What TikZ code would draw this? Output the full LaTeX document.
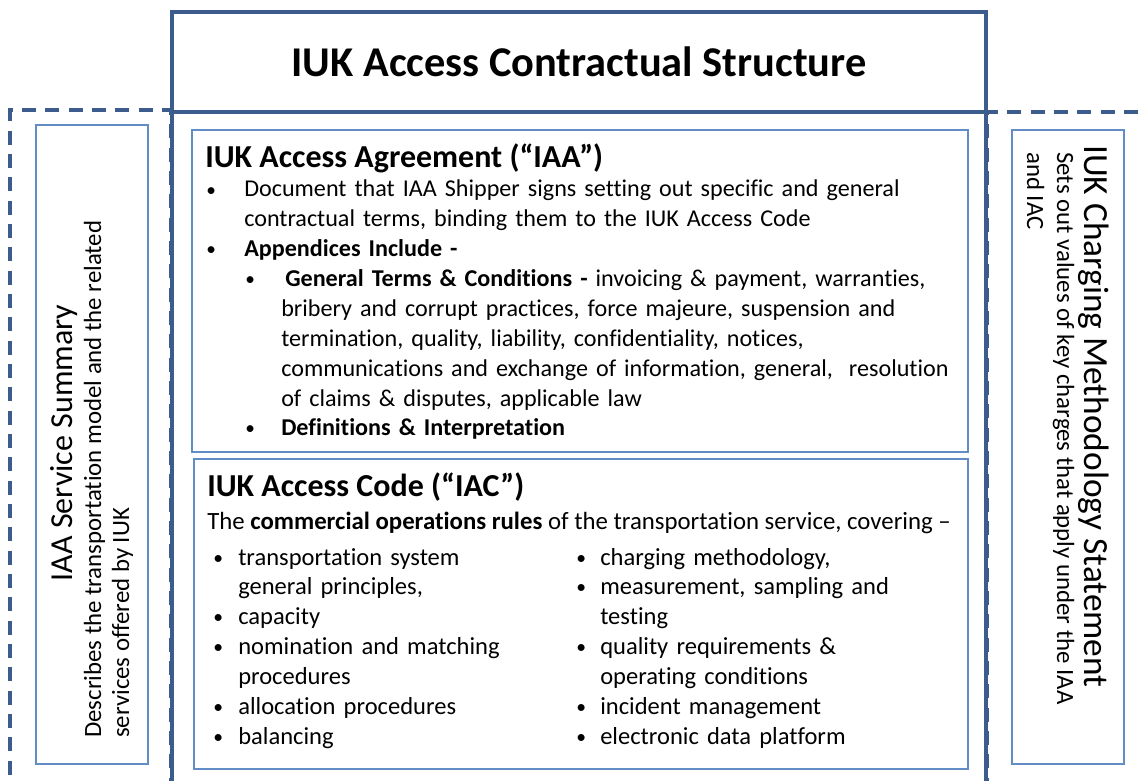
\documentclass[tikz,border=0pt]{standalone}
\usepackage{fontspec}
\setmainfont{Carlito}[Ligatures=NoCommon]
\usetikzlibrary{positioning}
\definecolor{frameBlue}{RGB}{59,92,140}
\definecolor{panelBlue}{RGB}{98,140,198}
\newdimen\pxu \pxu=0.75pt
\newcommand{\bul}[1]{\makebox[#1\pxu][l]{\raisebox{0.04em}{\scalebox{0.8}{\textbullet}}}}

\begin{document}
\begin{tikzpicture}[
  x=0.75pt, y=-0.75pt,
  frame/.style={
    draw=frameBlue,
    line width=2.4pt
  },
  dashframe/.style={
    draw=frameBlue,
    line width=2.4pt,
    dash pattern=on 10.5pt off 7pt
  },
  panel/.style={
    draw=panelBlue,
    line width=1.5pt,
    anchor=north west,
    inner sep=0pt
  },
  txt/.style={
    inner sep=0pt,
    anchor=base west,
    font=\fontsize{18.6}{22.4}\selectfont
  },
  listing/.style={
    txt,
    text width=600pt,
    align=left
  },
  head/.style={
    inner sep=0pt,
    anchor=base west,
    font=\fontsize{24}{28}\selectfont\bfseries
  },
  sidehead/.style={
    inner sep=0pt,
    font=\fontsize{24}{28}\selectfont
  }
]
\useasboundingbox (0,0) rectangle (1139,781);

% outer frames
\draw[dashframe] (171,815) -- (171,110) -- (10,110) -- (10,815);
\draw[dashframe] (987,815) -- (987,112) -- (1160,112);
\draw[frame] (172,815) -- (172,12) -- (986,12) -- (986,815);
\draw[frame] (172,112) -- (986,112);
\node[inner sep=0pt, anchor=base, font=\fontsize{31.8}{36}\selectfont\bfseries]
  (title) at (579,77) {IUK Access Contractual Structure};

% panels
\node[panel, minimum width=84pt, minimum height=479.25pt] (summaryBox) at (35,124) {};
\node[panel, minimum width=582pt, minimum height=241.5pt] (iaaBox) at (191,129) {};
\node[panel, minimum width=580.5pt, minimum height=232.5pt] (iacBox) at (193,458) {};
\node[panel, minimum width=84pt, minimum height=475.5pt] (chargingBox) at (1011,129) {};

% IAA Service Summary
\node[sidehead, rotate=90, anchor=base] (summaryHead) at (72,443) {IAA Service Summary};
\node[txt, rotate=90] (summaryA) at (101,738) {Describes the transportation model and the related};
\node[txt, rotate=90] (summaryB) at (129,738) {services offered by IUK};

% IUK Access Agreement
\node[head] (iaaHead) at (205,168) {IUK Access Agreement (“IAA”)};
\node[listing, font=\fontsize{18.1}{22.4}\selectfont] (iaaList) at (206,197) {%
  \bul{38}Document that IAA Shipper signs setting out specific and general\\
  \hspace*{38\pxu}contractual terms, binding them to the IUK Access Code\\
  \bul{38}\textbf{Appendices Include -}\\
  \hspace*{39\pxu}\bul{40}\textbf{General Terms \& Conditions -} invoicing \& payment, warranties,\\
  \hspace*{75\pxu}bribery and corrupt practices, force majeure, suspension and\\
  \hspace*{75\pxu}termination, quality, liability, confidentiality, notices,\\
  \hspace*{75\pxu}communications and exchange of information, general,\ \ resolution\\
  \hspace*{75\pxu}of claims \& disputes, applicable law\\
  \hspace*{39\pxu}\bul{36}\textbf{Definitions \& Interpretation}};

% IUK Access Code
\node[head] (iacHead) at (207,496) {IUK Access Code (“IAC”)};
\node[txt] (iacIntro) at (207,529)
  {The \textbf{commercial operations rules} of the transportation service, covering –};
\node[listing, font=\fontsize{18.4}{22.4}\selectfont] (iacLeft) at (213,565) {%
  \bul{25}transportation system\\
  \hspace*{25\pxu}general principles,\\
  \bul{25}capacity\\
  \bul{25}nomination and matching\\
  \hspace*{25\pxu}procedures\\
  \bul{25}allocation procedures\\
  \bul{25}balancing};
\node[listing, font=\fontsize{18.4}{22.4}\selectfont] (iacRight) at (576,565) {%
  \bul{24}charging methodology,\\
  \bul{24}measurement, sampling and\\
  \hspace*{24\pxu}testing\\
  \bul{24}quality requirements \&\\
  \hspace*{24\pxu}operating conditions\\
  \bul{24}incident management\\
  \bul{24}electronic data platform};

% IUK Charging Methodology Statement
\node[sidehead, rotate=-90, anchor=base west, font=\fontsize{26.5}{30}\selectfont]
  (chargingHead) at (1084,145) {IUK Charging Methodology Statement};
\node[txt, rotate=-90] (chargingA) at (1057,152) {Sets out values of key charges that apply under the IAA};
\node[txt, rotate=-90] (chargingB) at (1027,152) {and IAC};
\end{tikzpicture}
\end{document}
